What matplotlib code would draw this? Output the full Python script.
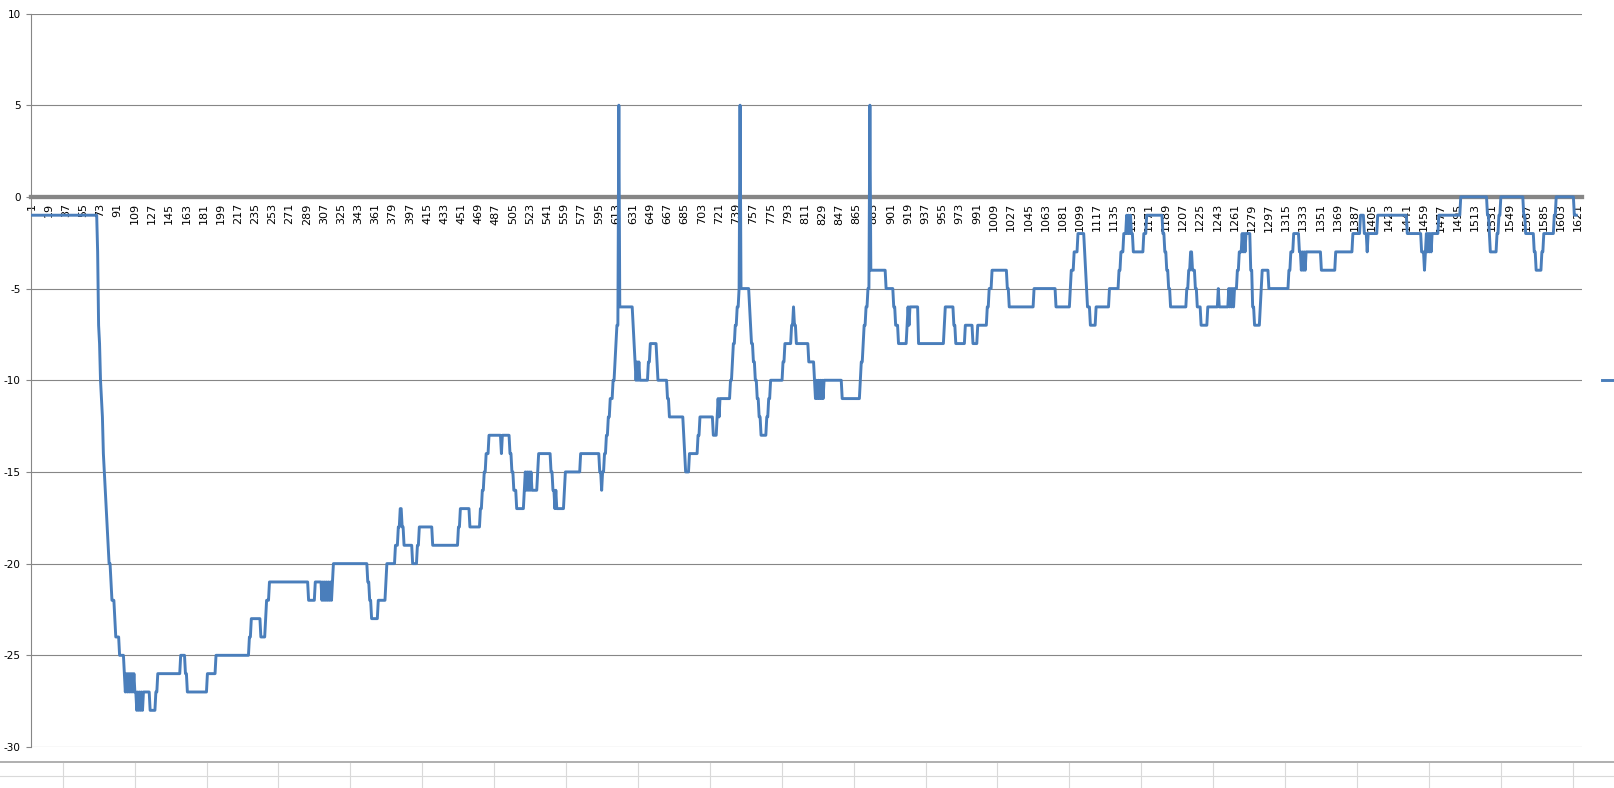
import matplotlib
matplotlib.use("Agg")
import matplotlib.pyplot as plt
from matplotlib.lines import Line2D
import numpy as np

plt.rcParams['font.family'] = ['DejaVu Sans']
plt.rcParams['font.size'] = 7

# series is a staircase: each level holds from its start category until the next start
step_start = [
    1, 70, 71, 72, 73, 74, 75, 76, 77, 78, 79, 80, 81, 82, 84, 85, 88, 89, 93,
    98, 99, 100, 101, 102, 103, 104, 105, 106, 107, 108, 109,
    111, 112, 113, 114, 115, 116, 117, 118,
    125, 131, 133, 157, 162, 164, 185, 194, 229, 231, 241, 246, 247, 250,
    291, 298, 305, 306, 307, 308, 309, 310, 311, 312, 313, 314, 315, 316, 317,
    353, 355, 357, 364, 372, 373, 382, 385, 387, 389, 391, 400, 405, 407, 421,
    448, 450, 460, 471, 473, 475, 477, 480, 493, 494, 502, 504, 506, 509, 517,
    518, 519, 520, 521, 522, 523, 524, 525, 531, 532,
    545, 547, 549, 550, 551, 559, 560, 576, 596, 598, 599, 601, 603, 605, 607,
    610, 612, 613, 614, 616, 617, 631, 632, 633, 634, 635, 636, 637, 638, 647,
    649, 656, 657, 667, 669, 684, 685, 686, 690, 699, 701, 715, 719, 720, 721,
    722, 733, 735, 736, 738, 740, 742, 743, 744, 753, 754, 755, 757, 759, 761,
    763, 765, 771, 773, 775, 788, 790, 797, 799, 800, 802, 815,
    821, 822, 823, 824, 825, 826, 827, 828, 829, 830, 831, 850, 869, 870, 872,
    873, 875, 877, 879, 880,
    896, 904, 906, 909, 918, 919, 920, 921, 930, 957, 958, 967, 969, 979, 987,
    992, 1002, 1004, 1007, 1023, 1025, 1051, 1074, 1089, 1090, 1093, 1097, 1104,
    1105, 1106, 1107, 1110, 1116, 1130, 1140, 1142, 1145, 1148, 1149, 1150, 1151,
    1152, 1153, 1155, 1166, 1169, 1186, 1188, 1190, 1192, 1194, 1211, 1213, 1215,
    1217, 1220, 1222, 1226, 1233, 1244, 1245, 1255, 1256, 1257, 1258, 1259, 1260,
    1261, 1264, 1266, 1269, 1270, 1271, 1272, 1273, 1278, 1280, 1282, 1288, 1289,
    1290, 1297, 1318, 1320, 1323, 1329, 1331, 1332, 1333, 1334, 1335, 1336, 1352,
    1367, 1385, 1393, 1397, 1400, 1401, 1411, 1442, 1457, 1460, 1461, 1462, 1463,
    1464, 1465, 1466, 1467, 1468, 1475, 1498, 1526, 1528, 1529, 1536, 1538, 1540,
    1564, 1566, 1575, 1577, 1583, 1585, 1596, 1598, 1617,
]
step_level = [
    -1, -3, -7, -8, -10, -11, -12, -14, -15, -16, -17, -18, -19, -20, -21, -22, -23, -24, -25,
    -26, -27, -26, -27, -26, -27, -26, -27, -26, -27, -26, -27,
    -28, -27, -28, -27, -28, -27, -28, -27,
    -28, -27, -26, -25, -26, -27, -26, -25, -24, -23, -24, -23, -22, -21,
    -22, -21, -22, -21, -22, -21, -22, -21, -22, -21, -22, -21, -22, -21, -20,
    -21, -22, -23, -22, -21, -20, -19, -18, -17, -18, -19, -20, -19, -18, -19,
    -18, -17, -18, -17, -16, -15, -14, -13, -14, -13, -14, -15, -16, -17, -16,
    -15, -16, -15, -16, -15, -16, -15, -16, -15, -14,
    -15, -16, -17, -16, -17, -16, -15, -14, -15, -16, -15, -14, -13, -12, -11,
    -10, -9, -8, -7, 5, -6, -7, -8, -9, -10, -9, -10, -9, -10, -9,
    -8, -9, -10, -11, -12, -13, -14, -15, -14, -13, -12, -13, -12, -11, -12,
    -11, -10, -9, -8, -7, -6, -5, 5, -5, -6, -7, -8, -9, -10, -11,
    -12, -13, -12, -11, -10, -9, -8, -7, -6, -7, -8, -9,
    -10, -11, -10, -11, -10, -11, -10, -11, -10, -11, -10, -11, -10, -9, -8,
    -7, -6, -5, 5, -4,
    -5, -6, -7, -8, -7, -6, -7, -6, -8, -7, -6, -7, -8, -7, -8,
    -7, -6, -5, -4, -5, -6, -5, -6, -5, -4, -3, -2, -3,
    -4, -5, -6, -7, -6, -5, -4, -3, -2, -1, -2, -1, -2,
    -1, -2, -3, -2, -1, -2, -3, -4, -5, -6, -5, -4, -3,
    -4, -5, -6, -7, -6, -5, -6, -5, -6, -5, -6, -5, -6,
    -5, -4, -3, -2, -3, -2, -3, -2, -4, -6, -7, -6, -5,
    -4, -5, -4, -3, -2, -3, -4, -3, -4, -3, -4, -3, -4,
    -3, -2, -1, -2, -3, -2, -1, -2, -3, -4, -3, -2, -3,
    -2, -3, -2, -3, -2, -1, 0, -1, -2, -3, -2, -1, 0,
    -1, -2, -3, -4, -3, -2, -1, 0, -1,
]
last_point = 1619          # last category holding a value
n_categories = 1624        # categories on the axis (a few empty at the end)
label_every = 18
y_ticks = [10, 5, 0, -5, -10, -15, -20, -25, -30]
series_name = 'Series1'

runs = np.diff(step_start + [last_point + 1])
values = np.repeat(step_level, runs)
cats = np.arange(1, len(values) + 1)

W, H = 1614, 788
fig = plt.figure(figsize=(W / 100, H / 100), dpi=100)
ax = fig.add_axes([31.3 / W, 1 - 747 / H, (1581.5 - 31.3) / W, (747 - 13.5) / H])

grey = '#868686'
# move the category axis to y=0 first (this rebuilds the ticks)
ax.spines['bottom'].set_position(('data', 0))
for s in ['top', 'right']:
    ax.spines[s].set_visible(False)
ax.spines['left'].set_color(grey)
ax.spines['left'].set_linewidth(0.8)
ax.spines['bottom'].set_color(grey)
ax.spines['bottom'].set_linewidth(3.1)

line, = ax.plot(cats, values, color='#4a7ebb', lw=2.1, zorder=3,
                solid_joinstyle='round')

ax.set_xlim(0.5, n_categories + 0.5)
ax.set_ylim(-30, 10)
ax.set_yticks(y_ticks)
ax.set_yticklabels([str(v) for v in y_ticks])
xt = np.arange(1, n_categories + 1, label_every)
ax.set_xticks(xt)
ax.set_xticklabels([str(v) for v in xt])
ax.tick_params(axis='x', length=0, pad=4.5, labelsize=8, labelrotation=90)
plt.setp(ax.get_xticklabels(), va='top', ha='center')
ax.tick_params(axis='y', length=3.6, width=0.8, color=grey, pad=4, labelsize=7.5)

ax.grid(axis='y', color=grey, lw=0.8)
ax.set_axisbelow(True)

# legend box, mostly off the right edge of the screenshot
fig.legend([line], [series_name], loc='center left',
           bbox_to_anchor=(1601.7 / W, 1 - 380 / H), frameon=False,
           borderpad=0, borderaxespad=0, handlelength=2.5)

# spreadsheet cells under the chart
fig.add_artist(Line2D([0, 1], [1 - 762.3 / H] * 2, transform=fig.transFigure,
                      color='#9a9a9a', lw=1.1))
fig.add_artist(Line2D([0, 1], [1 - 775.6 / H] * 2, transform=fig.transFigure,
                      color='#d9d9d9', lw=0.8))
for k in range(22):
    xc = (62.75 + 71.9 * k) / W
    fig.add_artist(Line2D([xc, xc], [0, 1 - 763 / H], transform=fig.transFigure,
                          color='#d9d9d9', lw=0.8))

fig.savefig('out.png', dpi=100)
